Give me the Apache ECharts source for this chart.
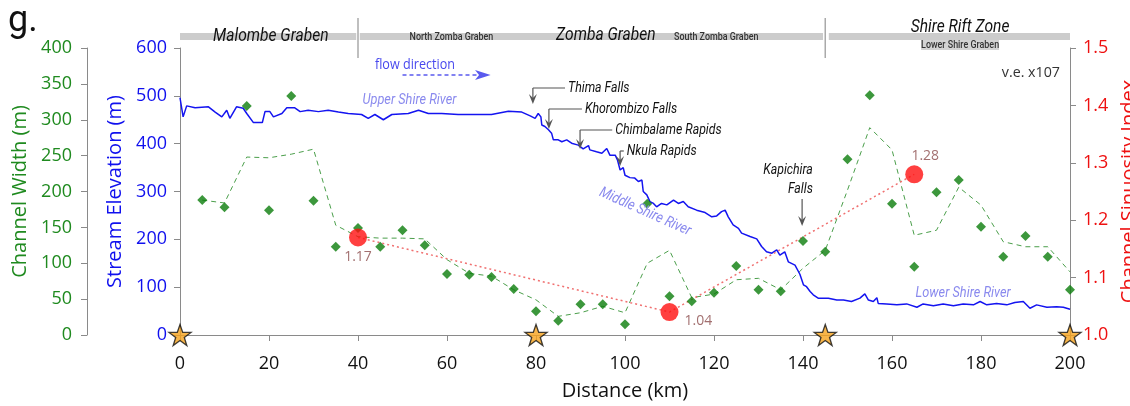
<!DOCTYPE html>
<html><head><meta charset="utf-8">
<script src="https://cdn.jsdelivr.net/npm/echarts@6/dist/echarts.min.js"></script>
<style>html,body{margin:0;padding:0;background:#fff}#c{width:1130px;height:406px}</style>
</head><body><div id="c"></div>
<script>
// ---------- DATA ----------
const xTicks = [0, 20, 40, 60, 80, 100, 120, 140, 160, 180, 200];
// Stream elevation profile (km, m)
const elevKm = [0,0.7,1.5,3.4,6.4,7.9,9.4,10.5,11.2,12.7,14.2,15.0,16.5,18.5,19.1,20.2,21.0,22.9,24.0,25.8,27.0,28.8,31.1,33.3,35.6,37.8,40.8,42.3,43.8,45.7,47.6,51.3,53.6,55.8,58.8,62.5,66.3,70.0,73.8,76.8,78.7,79.8,80.5,81.1,81.3,82.0,82.8,83.5,83.9,84.3,85.0,85.8,86.9,88.0,89.5,90.6,91.8,92.1,93.6,94.8,95.9,96.6,97.8,98.3,98.9,99.6,100.0,101.1,102.2,103.0,103.8,104.1,104.9,105.6,106.4,107.1,108.2,109.4,110.9,112.0,113.1,114.2,116.1,118.0,119.5,120.6,121.7,122.5,123.2,124.3,125.5,126.2,128.1,129.6,130.7,131.8,133.0,134.1,134.8,135.9,136.7,138.2,139.3,140.1,140.8,141.6,142.3,143.4,145.7,147.6,149.1,150.9,152.8,153.9,154.7,155.8,156.6,156.9,158.8,161.1,163.3,165.6,167.0,169.3,171.5,173.8,176.0,178.3,179.8,181.3,183.5,185.8,187.6,189.5,191.0,192.5,194.8,197.0,198.5,200.0];
const elevM = [496,456,479,475,477,466,456,470,453,477,474,463,444,444,467,467,456,463,475,475,467,470,467,470,466,463,461,453,461,450,461,463,470,463,463,461,461,461,468,466,458,453,463,456,439,436,429,422,408,404,408,404,408,401,397,389,396,387,383,380,390,376,376,366,345,350,334,329,328,321,324,300,293,279,275,268,275,272,282,275,279,268,261,256,247,249,258,261,247,230,223,213,206,201,185,174,171,178,167,174,153,146,127,105,101,91,84,77,77,73,73,70,77,86,73,70,78,66,65,63,65,58,65,61,65,61,65,63,70,63,66,63,68,70,56,63,58,59,58,54];
// Channel width samples (every 5 km)
const widthKm = [5,10,15,20,25,30,35,40,45,50,55,60,65,70,75,80,85,90,95,100,105,110,115,120,125,130,135,140,145,150,155,160,165,170,175,180,185,190,195,200];
const widthM = [188,178,319,174,333,187,123,149,123,146,125,85,84,81,64,33,20,43,43,15,183,54,47,59,96,63,61,131,116,245,334,183,95,199,216,151,109,138,109,63];
// Smoothed channel width (dashed)
const widthSmooth = [188,184,248,247,252,259,153,137,135,135,134,105,86,82,63,49,26,31,40,31,100,118,52,57,77,79,63,93,118,202,289,258,139,146,206,181,130,123,123,88];
// Channel sinuosity index
const sinKm = [40, 110, 165];
const sinVal = [1.17, 1.04, 1.28];
// Knickpoint stars
const starKm = [0, 80, 145, 200];
// Graben boundaries
const boundaryKm = [80, 145];

// ---------- STYLE ----------
const GREEN = '#1f8a1f', BLUE = '#1010ee', RED = '#ee1111', AX = '#8a8a8a';
const COND = "Roboto";
const SANS = "Open Sans";
const star = 'path://M50,2 L61.8,36.2 L97.6,36.2 L68.6,57.4 L79.4,92 L50,70.6 L20.6,92 L31.4,57.4 L2.4,36.2 L38.2,36.2 Z';

const chart = echarts.init(document.getElementById('c'), null, {renderer: 'canvas'});
const sinLabel = [
  {position: 'bottom', distance: 4, offset: [0, 0]},
  {position: 'right', distance: 6, offset: [0, 9]},
  {position: 'top', distance: 2, offset: [11, 0]}
];
chart.setOption({
  animation: false,
  grid: {left: 180, right: 60, top: 48, bottom: 71, containLabel: false, outerBoundsMode: 'none'},
  xAxis: {
    type: 'value', min: 0, max: 200, interval: 20,
    axisLine: {show: true, lineStyle: {color: AX, width: 1}},
    axisTick: {show: true, length: 6, lineStyle: {color: AX}},
    axisLabel: {color: '#111', fontSize: 18, fontFamily: SANS, margin: 20},
    splitLine: {show: false},
    name: 'Distance (km)', nameLocation: 'middle', nameGap: 46,
    nameTextStyle: {color: '#111', fontSize: 20, fontFamily: SANS}
  },
  yAxis: [
    {type: 'value', min: 0, max: 600, interval: 100, position: 'left',
     axisLine: {show: true, lineStyle: {color: AX}},
     axisTick: {show: true, length: 6, lineStyle: {color: AX}},
     axisLabel: {color: BLUE, fontSize: 18, fontFamily: SANS, margin: 13},
     splitLine: {show: false},
     name: 'Stream Elevation (m)', nameLocation: 'middle', nameGap: 55, nameRotate: 90,
     nameTextStyle: {color: BLUE, fontSize: 20, fontFamily: SANS}},
    {type: 'value', min: 0, max: 400, interval: 50, position: 'left', offset: 93,
     axisLine: {show: true, lineStyle: {color: AX}},
     axisTick: {show: true, length: 6, lineStyle: {color: AX}},
     axisLabel: {color: GREEN, fontSize: 18, fontFamily: SANS, margin: 15},
     splitLine: {show: false},
     name: 'Channel Width (m)', nameLocation: 'middle', nameGap: 57, nameRotate: 90,
     nameTextStyle: {color: GREEN, fontSize: 20, fontFamily: SANS}},
    {type: 'value', min: 1.0, max: 1.5, interval: 0.1, position: 'right',
     axisLine: {show: true, lineStyle: {color: AX}},
     axisTick: {show: true, length: 6, lineStyle: {color: AX}},
     axisLabel: {color: RED, fontSize: 18, fontFamily: SANS, margin: 13, formatter: v => v.toFixed(1)},
     splitLine: {show: false},
     name: 'Channel Sinuosity Index', nameLocation: 'middle', nameGap: 46, nameRotate: 90,
     nameTextStyle: {color: RED, fontSize: 20, fontFamily: SANS}}
  ],
  series: [
    {name: 'widthSmooth', type: 'line', yAxisIndex: 1, symbol: 'none', z: 2,
     data: widthKm.map((k, i) => [k, widthSmooth[i]]),
     lineStyle: {color: '#4a9e4a', width: 1, type: [5, 4]}},
    {name: 'elev', type: 'line', yAxisIndex: 0, symbol: 'none', z: 3,
     data: elevKm.map((k, i) => [k, elevM[i]]),
     lineStyle: {color: '#1414f0', width: 1.5}},
    {name: 'sinLine', type: 'line', yAxisIndex: 2, symbol: 'none', z: 4,
     data: sinKm.map((k, i) => [k, sinVal[i]]),
     lineStyle: {color: '#f07070', width: 1.5, type: [2, 3]}},
    {name: 'width', type: 'scatter', yAxisIndex: 1, symbol: 'diamond', symbolSize: [10, 10], z: 5,
     data: widthKm.map((k, i) => [k, widthM[i]]),
     itemStyle: {color: '#0b7d0b'}},
    {name: 'sin', type: 'scatter', yAxisIndex: 2, symbol: 'circle', symbolSize: 18, z: 6,
     data: sinKm.map((k, i) => ({value: [k, sinVal[i]], label: sinLabel[i]})),
     itemStyle: {color: '#ff1010'},
     label: {show: true, color: '#8b4b4b', fontSize: 14, fontFamily: SANS, formatter: p => p.value[1].toFixed(2)}},
    {name: 'stars', type: 'scatter', yAxisIndex: 0, symbol: star, symbolSize: [22, 21], z: 8, clip: false,
     data: starKm.map(k => [k, 0]),
     itemStyle: {color: '#f6a21c', borderColor: '#111', borderWidth: 1.3},
     markLine: {silent: true, symbol: 'none', label: {show: false}, z: 1,
       lineStyle: {color: '#e49090', type: [9, 6], width: 1.5},
       data: boundaryKm.map(k => [{coord: [k, 558]}, {coord: [k, -21]}])}}
  ]
});

// ---------- ANNOTATIONS ----------
function X(km) { return chart.convertToPixel({xAxisIndex: 0, yAxisIndex: 0}, [km, 0])[0]; }
const g = [];
function arrowDown(x, y0, tip, color) {
  g.push({type: 'line', shape: {x1: x, y1: y0, x2: x, y2: tip - 4}, style: {stroke: color, lineWidth: 1.2}, z: 20});
  g.push({type: 'polygon', shape: {points: [[x - 4, tip - 10], [x, tip - 6], [x + 4, tip - 10], [x, tip]]}, style: {fill: color}, z: 20});
}
function txt(x, y, text, opt, sx, rot) {
  g.push({type: 'text', x: x, y: y, z: 21, scaleX: sx || 1, rotation: rot || 0,
    style: Object.assign({text: text, verticalAlign: 'middle'}, opt)});
}
// panel label
txt(8, 22, 'g.', {fill: '#111', fontSize: 36, fontFamily: 'Roboto', align: 'left'});
// header bar
const barY = 33, barH = 7;
[[0, 39.6], [40.4, 144.5], [145.8, 200]].forEach(([a, b]) => {
  g.push({type: 'rect', shape: {x: X(a), y: barY, width: X(b) - X(a), height: barH}, style: {fill: '#cccccc'}, z: 10});
});
[40, 145].forEach(k => {
  g.push({type: 'line', shape: {x1: X(k), y1: 18, x2: X(k), y2: 58}, style: {stroke: '#aaaaaa', lineWidth: 1.5}, z: 11});
});
const big = {fill: '#111', fontSize: 19, fontStyle: 'italic', fontFamily: COND, align: 'center'};
const small = {fill: '#333', fontSize: 10.5, fontWeight: 500, fontFamily: COND, align: 'center'};
txt(X(20.4), 36, 'Malombe Graben', big, 0.82);
txt(X(61), 37, 'North Zomba Graben', small, 0.85);
txt(X(95.7), 35, 'Zomba Graben', big, 0.82);
txt(X(120.5), 37, 'South Zomba Graben', small, 0.85);
txt(X(175.3), 27, 'Shire Rift Zone', big, 0.82);
g.push({type: 'rect', shape: {x: X(175.3) - 39, y: 40, width: 78, height: 10}, style: {fill: '#d4d4d4'}, z: 10});
txt(X(175.3), 45, 'Lower Shire Graben', small, 0.85);
// flow direction
txt(X(43.8), 65, 'flow direction', {fill: '#4848ee', fontSize: 14, fontFamily: SANS, align: 'left'}, 0.9);
g.push({type: 'line', shape: {x1: X(50), y1: 75, x2: X(67.2), y2: 75}, style: {stroke: '#5a5aee', lineWidth: 1.5, lineDash: [4, 3]}, z: 20});
g.push({type: 'polygon', shape: {points: [[X(66.3), 70], [X(69.8), 75], [X(66.3), 80], [X(67.2), 75]]}, style: {fill: '#5a5aee'}, z: 20});
// vertical exaggeration
txt(X(200) - 10, 73, 'v.e. x107', {fill: '#333', fontSize: 15, fontFamily: SANS, align: 'right'}, 0.95);
// river labels
const river = {fill: '#8a8aee', fontSize: 15, fontStyle: 'italic', fontFamily: COND, align: 'left'};
txt(X(41), 100, 'Upper Shire River', river, 0.85);
txt(X(104.5), 212, 'Middle Shire River', Object.assign({}, river, {align: 'center'}), 0.85, -24 * Math.PI / 180);
txt(X(165.3), 293, 'Lower Shire River', river, 0.85);
// falls / rapids
const ann = {fill: '#111', fontSize: 15, fontStyle: 'italic', fontFamily: COND, align: 'left'};
const annCol = '#555';
const falls = [
  {text: 'Thima Falls', km: 79.3, textKm: 87.2, y: 88, tip: 104},
  {text: 'Khorombizo Falls', km: 82.9, textKm: 91.0, y: 109, tip: 129},
  {text: 'Chimbalame Rapids', km: 89.9, textKm: 97.8, y: 130, tip: 149},
  {text: 'Nkula Rapids', km: 98.9, textKm: 100.4, y: 151, tip: 166}
];
falls.forEach(f => {
  g.push({type: 'line', shape: {x1: X(f.km), y1: f.y, x2: X(f.textKm) - 3, y2: f.y}, style: {stroke: annCol, lineWidth: 1.2}, z: 20});
  arrowDown(X(f.km), f.y, f.tip, annCol);
  txt(X(f.textKm), f.y, f.text, ann, 0.82);
});
txt(X(142.2), 170, 'Kapichira', Object.assign({}, ann, {align: 'right'}), 0.82);
txt(X(142.2), 189, 'Falls', Object.assign({}, ann, {align: 'right'}), 0.82);
arrowDown(X(139.8), 199, 226, annCol);

chart.setOption({graphic: g});
</script>
</body></html>
